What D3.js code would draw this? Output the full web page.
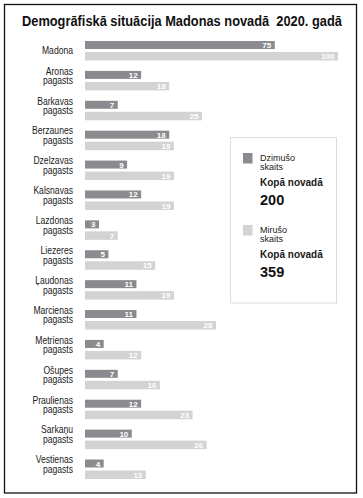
<!DOCTYPE html>
<html lang="lv">
<head>
<meta charset="UTF-8">
<title>Demogrāfiskā situācija Madonas novadā 2020. gadā</title>
<style>
  body { margin: 0; background: #fff; }
  text { font-family: "Liberation Sans", Arial, sans-serif; }
</style>
</head>
<body>
<svg id="chart"></svg>
<script src="https://d3js.org/d3.v7.min.js"></script>
<script>
  // data
  const places = ["Madona", "Aronas", "Barkavas", "Berzaunes", "Dzelzavas", "Kalsnavas",
    "Lazdonas", "Liezeres", "Ļaudonas", "Marcienas", "Metrienas", "Ošupes",
    "Praulienas", "Sarkaņu", "Vestienas"];
  const born = [75, 12, 7, 18, 9, 12, 3, 5, 11, 11, 4, 7, 12, 10, 4];
  const died = [100, 18, 25, 19, 19, 19, 7, 15, 19, 28, 12, 16, 23, 26, 13];
  const legendNames = [["Dzimušo", "skaits"], ["Mirušo", "skaits"]];
  const totals = [200, 359];

  const W = 363, H = 498;
  const darkCol = "#8b8b8f", lightCol = "#d3d3d3";

  const svg = d3.select("#chart").attr("width", W).attr("height", H);

  // outer frame
  svg.append("rect")
    .attr("x", 4.5).attr("y", 4.5)
    .attr("width", 352).attr("height", 488.5)
    .attr("fill", "none").attr("stroke", "#111").attr("stroke-width", 1.3);

  // title is a condensed face in the original, so squeeze it to fit 320px
  const title = svg.append("text")
    .attr("x", 0).attr("y", 0)
    .attr("font-size", 15.5).attr("font-weight", "bold").attr("fill", "#111")
    .style("white-space", "pre")
    .text("Demogrāfiskā situācija Madonas novadā  2020. gadā");
  const tw = title.node().getComputedTextLength();
  title.attr("transform", `translate(22,25.5) scale(${320 / tw},1)`);

  // Madona is drawn on its own (shorter) scale, the parishes on a longer one
  const x0 = 85;
  const xBig = d3.scaleLinear().domain([0, 100]).range([0, 253]);
  const xSmall = d3.scaleLinear().domain([0, 28]).range([0, 131]);
  const y = d3.scalePoint().domain(places).range([41, 459.5]);

  const rows = places.map((p, i) => ({ name: p, born: born[i], died: died[i], sc: i === 0 ? xBig : xSmall }));

  const g = svg.append("g");
  const row = g.selectAll(".row").data(rows).enter().append("g")
    .attr("class", "row")
    .attr("transform", d => `translate(0,${y(d.name)})`);

  row.append("rect")
    .attr("x", x0).attr("y", 0)
    .attr("width", d => d.sc(d.born)).attr("height", 8)
    .attr("fill", darkCol);
  row.append("rect")
    .attr("x", x0).attr("y", 11)
    .attr("width", d => d.sc(d.died)).attr("height", 8.5)
    .attr("fill", lightCol);

  row.append("text")
    .attr("x", d => x0 + d.sc(d.born) - 3.5).attr("y", 7)
    .attr("text-anchor", "end").attr("font-size", 8).attr("font-weight", "bold").attr("fill", "#fff")
    .text(d => d.born);
  row.append("text")
    .attr("x", d => x0 + d.sc(d.died) - 3.5).attr("y", 18.2)
    .attr("text-anchor", "end").attr("font-size", 8).attr("font-weight", "bold").attr("fill", "#fff")
    .text(d => d.died);

  // category labels (narrowed horizontally)
  row.each(function (d, i) {
    const t = d3.select(this).append("text")
      .attr("transform", "translate(73,0) scale(0.86,1)")
      .attr("text-anchor", "end").attr("font-size", 10).attr("fill", "#1a1a1a");
    if (i === 0) {
      t.append("tspan").attr("x", 0).attr("y", 13.5).text(d.name);
    } else {
      t.append("tspan").attr("x", 0).attr("y", 3.8).text(d.name);
      t.append("tspan").attr("x", 0).attr("y", 13.4).text("pagasts");
    }
  });

  // legend
  const lg = svg.append("g");
  lg.append("rect")
    .attr("x", 230.5).attr("y", 137.5).attr("width", 106).attr("height", 165.5)
    .attr("fill", "#fff").attr("stroke", "#dcdcdc").attr("stroke-width", 1);

  const legTop = [153, 225];
  [darkCol, lightCol].forEach((c, i) => {
    const t = legTop[i];
    lg.append("rect").attr("x", 243).attr("y", t).attr("width", 9.5).attr("height", 10.5).attr("fill", c);
    lg.append("text").attr("x", 260).attr("y", t + 7.5)
      .attr("font-size", 9).attr("fill", "#1a1a1a").text(legendNames[i][0]);
    lg.append("text").attr("x", 260).attr("y", t + 16.5)
      .attr("font-size", 9).attr("fill", "#1a1a1a").text(legendNames[i][1]);
    lg.append("text").attr("x", 260).attr("y", t + 33)
      .attr("font-size", 10).attr("font-weight", "bold").attr("fill", "#1a1a1a").text("Kopā novadā");
    lg.append("text").attr("x", 260).attr("y", t + 52)
      .attr("font-size", 14.5).attr("font-weight", "bold").attr("fill", "#111")
      .text(totals[i]);
  });
</script>
</body>
</html>
